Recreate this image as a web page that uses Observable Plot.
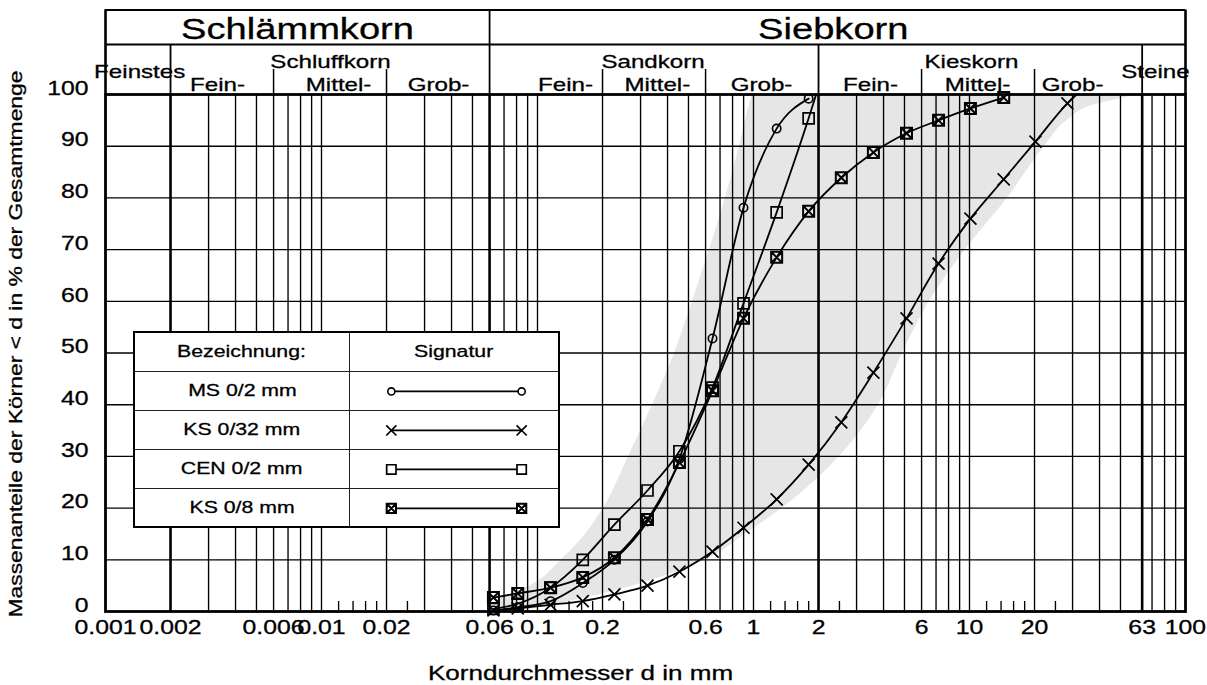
<!DOCTYPE html>
<html>
<head>
<meta charset="utf-8">
<script src="https://cdn.jsdelivr.net/npm/d3@7"></script>
<script src="https://cdn.jsdelivr.net/npm/@observablehq/plot@0.6"></script>
<style>
  html,body{margin:0;padding:0;background:#fff;}
  #chart{position:relative;width:1207px;height:685px;font-family:"Liberation Sans",Arial,sans-serif;}
  #chart svg text{stroke:#000;stroke-width:0.3px;}
  #legend{position:absolute;left:133px;top:331px;width:427px;height:197px;background:#fff;border:2px solid #000;box-sizing:border-box;}
  #legend table{border-collapse:collapse;border-style:hidden;width:100%;height:100%;table-layout:fixed;}
  #legend td{border:1.5px solid #222;padding:0;text-align:center;vertical-align:middle;font-size:17px;color:#000;height:38px;-webkit-text-stroke:0.3px #000;}
  #legend td.sig{line-height:0;}
  .st{display:inline-block;transform:scaleX(1.25);}
</style>
</head>
<body>
<div id="chart"></div>
<script>
// ---------------- data ----------------
// sieve sizes (mm)
const sieveSizes = [0.0625, 0.081, 0.115, 0.162, 0.227, 0.323, 0.454, 0.646, 0.899, 1.28, 1.80, 2.55, 3.59, 5.11, 7.19, 10.1, 14.4, 20.2, 28.4];
// percent passing per series (first n sieves)
const msPassing   = [0.2, 0.8, 2.0, 5.5, 10.0, 17.4, 29.5, 52.8, 78.1, 93.4, 99.2];
const ks32Passing = [0.2, 0.6, 1.3, 2.0, 3.3, 5.0, 7.7, 11.6, 16.2, 21.7, 28.4, 36.6, 46.2, 56.7, 67.3, 76.0, 83.6, 90.9, 98.3];
const cenPassing  = [0.5, 1.5, 4.6, 10.0, 16.8, 23.4, 31.0, 43.3, 59.6, 77.2, 95.4];
const ks8Passing  = [2.7, 3.5, 4.6, 6.6, 10.4, 17.8, 28.8, 42.7, 56.7, 68.5, 77.4, 83.9, 88.8, 92.5, 95.0, 97.3, 99.4];
// where curves run out at 100 % (no marker)
const cenLineEnd  = [1.95, 100];
const ks32LineEnd = [31.3, 100];

// grey range band: grain size at the fine and coarse limit for each passing level
const bandLevel  = [0, 2.5, 5, 10, 15, 20, 30, 40, 50, 60, 70, 80, 90, 95, 98, 100];
const bandFine   = [0.060, 0.0674, 0.0928, 0.129, 0.167, 0.202, 0.264, 0.341, 0.431, 0.522, 0.626, 0.742, 0.861, 0.918, 0.958, 0.989];
const bandCoarse = [0.083, 0.162, 0.278, 0.600, 0.918, 1.36, 2.50, 3.79, 4.90, 6.53, 9.58, 15.0, 22.3, 28.4, 37.9, 61.9];

// axis
const xDomain = [0.001, 100];
const xTickValues = [0.001, 0.002, 0.006, 0.01, 0.02, 0.06, 0.1, 0.2, 0.6, 1, 2, 6, 10, 20, 63, 100];
const xTickLabels = ["0.001", "0.002", "0.006", "0.01", "0.02", "0.06", "0.1", "0.2", "0.6", "1", "2", "6", "10", "20", "63", "100"];
const yTickValues = [0, 10, 20, 30, 40, 50, 60, 70, 80, 90, 100];
const gridX = [0.003, 0.004, 0.005, 0.006, 0.007, 0.008, 0.009, 0.01, 0.02, 0.03, 0.04, 0.05, 0.07, 0.08, 0.09,
               0.1, 0.2, 0.3, 0.4, 0.5, 0.6, 0.7, 0.8, 0.9, 1, 3, 4, 5, 6, 7, 8, 9, 10, 20, 30, 40, 50, 70, 80, 90];
const classBounds = [0.002, 0.06, 2, 63];
const shortTicks = [0.012, 0.014, 0.016, 0.018, 0.025, 0.12, 0.14, 0.16, 0.18, 0.25, 1.2, 1.4, 1.6, 1.8, 2.5, 12, 14, 16, 18, 25];
const gridY = [10, 20, 30, 40, 50, 60, 70, 80, 90];

// header classification
const mainLabels = ["Schlämmkorn", "Siebkorn"];
const mainLabelAt = [0.00775, 2.34];
const mainBound = [0.06];
const groupLabels = ["Schluffkorn", "Sandkorn", "Kieskorn"];
const groupLabelAt = [0.0110, 0.343, 10.2];
const endLabels = ["Feinstes", "Steine"];
const endLabelAt = [0.00144, 72.6];
const groupBounds = [0.002, 2, 63];
const fractionLabels = ["Fein-", "Mittel-", "Grob-", "Fein-", "Mittel-", "Grob-", "Fein-", "Mittel-", "Grob-"];
const fractionLabelAt = [0.0033, 0.0120, 0.0348, 0.1348, 0.359, 1.089, 3.48, 10.9, 30.0];
const fractionBounds = [0.006, 0.02, 0.2, 0.6, 6, 20];

// legend
const legendHead = ["Bezeichnung:", "Signatur"];
const legendNames = ["MS 0/2 mm", "KS 0/32 mm", "CEN 0/2 mm", "KS 0/8 mm"];

// texts
const xTitle = "Korndurchmesser d in mm";
const yTitle = "Massenanteile der Körner < d in % der Gesamtmenge";

// ---------------- layout ----------------
const W = 1207, H = 685, mL = 105, mR = 22, mT = 94, mB = 74;
const pxPerUnit = (H - mT - mB) / 100;
const rowAt = px => (H - mB - px) / pxPerUnit;   // header rows expressed in y units
const headerTop = rowAt(9.5), headerMid = rowAt(44), subTop = rowAt(69);
const rowMainY = rowAt(29), rowGroupY = rowAt(61), rowEndY = rowAt(71), rowSubY = rowAt(84.5);
const shortTickLen = 10 / pxPerUnit;
const STRETCH = 1.27;
const FONT = "Liberation Sans, Arial, sans-serif";
const GRID_W = 1.35;

// custom marker symbols (size -> radius r)
const rOf = s => Math.sqrt(s / Math.PI);
const symCircle = {draw(c, s) { const r = rOf(s); c.moveTo(r, 0); c.arc(0, 0, r, 0, 2 * Math.PI); }};
const symTimes = {draw(c, s) { const r = rOf(s); c.moveTo(-r, -r); c.lineTo(r, r); c.moveTo(-r, r); c.lineTo(r, -r); }};
const symSquare = {draw(c, s) { const r = rOf(s); c.rect(-r, -r, 2 * r, 2 * r); }};
const symSquareX = {draw(c, s) { const r = rOf(s); c.rect(-r, -r, 2 * r, 2 * r); c.moveTo(-r, -r); c.lineTo(r, r); c.moveTo(-r, r); c.lineTo(r, -r); }};

const series = [
  {name: legendNames[0], pass: msPassing, end: null, sym: symCircle, r: 4.2, sw: 1.6},
  {name: legendNames[1], pass: ks32Passing, end: ks32LineEnd, sym: symTimes, r: 6, sw: 1.7},
  {name: legendNames[2], pass: cenPassing, end: cenLineEnd, sym: symSquare, r: 5.5, sw: 1.7},
  {name: legendNames[3], pass: ks8Passing, end: null, sym: symSquareX, r: 5.5, sw: 2}
];

const band = bandLevel.map((p, i) => ({p, fine: bandFine[i], coarse: bandCoarse[i]}));

const seriesMarks = series.flatMap(s => {
  const pts = s.pass.map((p, i) => ({d: sieveSizes[i], p}));
  const linePts = s.end ? [...pts, {d: s.end[0], p: s.end[1]}] : pts;
  return [
    Plot.line(linePts, {x: "d", y: "p", curve: "monotone-x", stroke: "#000", strokeWidth: 1.8}),
    Plot.dot(pts, {x: "d", y: "p", symbol: s.sym, r: s.r, stroke: "#000", fill: "none", strokeWidth: s.sw})
  ];
});

const chart = Plot.plot({
  width: W, height: H,
  marginLeft: mL, marginRight: mR, marginTop: mT, marginBottom: mB,
  style: {fontFamily: FONT, color: "#000", background: "#fff", overflow: "visible"},
  x: {type: "log", domain: xDomain, axis: null},
  y: {domain: [0, 100], axis: null},
  marks: [
    Plot.areaX(band, {y: "p", x1: "fine", x2: "coarse", fill: "#e6e6e6", curve: "monotone-y"}),
    Plot.ruleX(gridX, {stroke: "#000", strokeWidth: GRID_W}),
    Plot.ruleX(shortTicks, {y1: 0, y2: shortTickLen, stroke: "#000", strokeWidth: GRID_W}),
    Plot.ruleY(gridY, {stroke: "#000", strokeWidth: GRID_W}),
    Plot.ruleX(classBounds, {stroke: "#000", strokeWidth: 2.6}),
    // header table
    Plot.ruleY([headerTop, headerMid], {x1: xDomain[0], x2: xDomain[1], stroke: "#000", strokeWidth: 2.2}),
    Plot.ruleX(xDomain, {y1: 100, y2: headerTop, stroke: "#000", strokeWidth: 2.6}),
    Plot.ruleX(mainBound, {y1: 100, y2: headerTop, stroke: "#000", strokeWidth: 1.8}),
    Plot.ruleX(groupBounds, {y1: 100, y2: headerMid, stroke: "#000", strokeWidth: 1.8}),
    Plot.ruleX(fractionBounds, {y1: 100, y2: subTop, stroke: "#000", strokeWidth: 1.5}),
    Plot.frame({stroke: "#000", strokeWidth: 2.8}),
    ...seriesMarks,
    // header texts
    Plot.text(mainLabels, {x: (d, i) => mainLabelAt[i], y: () => rowMainY, text: d => d, fontSize: 30, fill: "#000"}),
    Plot.text(groupLabels, {x: (d, i) => groupLabelAt[i], y: () => rowGroupY, text: d => d, fontSize: 19, fill: "#000"}),
    Plot.text(endLabels, {x: (d, i) => endLabelAt[i], y: () => rowEndY, text: d => d, fontSize: 19, fill: "#000"}),
    Plot.text(fractionLabels, {x: (d, i) => fractionLabelAt[i], y: () => rowSubY, text: d => d, fontSize: 19, fill: "#000"}),
    // axes
    Plot.text(yTickValues, {y: d => d, text: d => String(d), frameAnchor: "left", textAnchor: "end", dx: -17, dy: -6, fontSize: 19.5, fill: "#000"}),
    Plot.text(xTickValues, {x: d => d, text: (d, i) => xTickLabels[i], frameAnchor: "bottom", textAnchor: "middle", dy: 22, fontSize: 19.5, fill: "#000"}),
    Plot.text([xTitle], {text: d => d, frameAnchor: "bottom", textAnchor: "middle", dx: -65, dy: 68, fontSize: 20.5, fill: "#000"}),
    Plot.text([yTitle], {text: d => d, frameAnchor: "left", textAnchor: "middle", rotate: -90, dx: -89, dy: -9, fontSize: 18, fill: "#000"})
  ]
});

const host = document.getElementById("chart");
host.append(chart);
// widen the lettering like the original (stretch along the baseline, keep the anchor)
chart.querySelectorAll("text").forEach(t => {
  const L = t.getComputedTextLength();
  if (!L) return;
  const anchor = getComputedStyle(t).textAnchor;
  const NL = L * STRETCH;
  t.setAttribute("textLength", NL.toFixed(1));
  t.setAttribute("lengthAdjust", "spacingAndGlyphs");
  t.setAttribute("text-anchor", "start");
  const shift = anchor === "middle" ? -NL / 2 : anchor === "end" ? -NL : 0;
  t.setAttribute("dx", shift.toFixed(1));
});

// ---------------- legend table ----------------
const legend = document.createElement("div");
legend.id = "legend";
const table = document.createElement("table");
const headRow = table.insertRow();
legendHead.forEach((h, i) => {
  const td = headRow.insertCell();
  if (i === 0) td.style.width = "214px";
  td.innerHTML = `<span class="st">${h}</span>`;
});
series.forEach(s => {
  const row = table.insertRow();
  const a = row.insertCell();
  a.innerHTML = `<span class="st">${s.name}</span>`;
  const b = row.insertCell();
  b.className = "sig";
  const ends = [0, 1];
  const sig = Plot.plot({
    width: 209, height: 36, marginLeft: 41, marginRight: 37, marginTop: 18, marginBottom: 18,
    x: {domain: [0, 1], axis: null}, y: {domain: [0, 1], axis: null},
    style: {background: "transparent"},
    marks: [
      Plot.line(ends, {x: d => d, y: () => 0.5, stroke: "#000", strokeWidth: 1.6}),
      Plot.dot(ends, {x: d => d, y: () => 0.5, symbol: s.sym, r: s.r * 0.85, stroke: "#000", fill: "#fff", strokeWidth: s.sw})
    ]
  });
  b.append(sig);
});
legend.append(table);
host.append(legend);
</script>
</body>
</html>
